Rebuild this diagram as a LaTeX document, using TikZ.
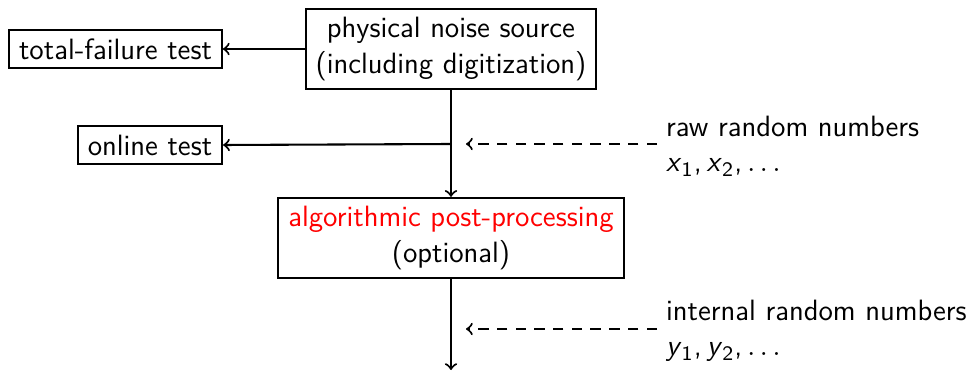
\documentclass[tikz,border=0pt]{standalone}
\usepackage{tikz}
\usetikzlibrary{calc}

\begin{document}
\begin{tikzpicture}[x=0.01352cm, y=-0.01352cm, >=to,
		font=\sffamily\fontsize{11.3}{13.6}\selectfont,
		box/.style={draw, thick, align=center, inner xsep=3.8pt, inner ysep=3.3pt},
		flow/.style={->, thick},
		feed/.style={->, thick, dash pattern=on 4pt off 3.2pt}]
			%%%%% START %%%%%
			
			\useasboundingbox (0, 0) rectangle (975, 373);
			
			\node[box] (source) at (451, 49) {physical noise source\\(including digitization)};
			\node[box] (failtest) at (115.5, 49) {total-failure test};
			\node[box] (onltest) at (150, 145) {online test};
			\node[box] (post) at (451, 238) {\textcolor{red}{algorithmic post-processing}\\(optional)};
			
			\node[anchor=west, align=left] (raw) at (657, 146) {raw random numbers\\\textit{x}\textsubscript{1},\,\textit{x}\textsubscript{2},\,$\ldots$};
			\node[anchor=west, align=left] (internal) at (657, 331) {internal random numbers\\\textit{y}\textsubscript{1},\,\textit{y}\textsubscript{2},\,$\ldots$};
			
			\coordinate (tap) at (451, 144);
			\coordinate (rawtip) at (466, 144);
			\coordinate (inttip) at (466, 329);
			\coordinate (out) at (451, 370);
			
			\draw[flow] (source.west) -- (failtest.east);
			\draw[flow] (source.south) -- (post.north);
			\draw[flow] (tap) -- (onltest.east);
			\draw[flow] (post.south) -- (out);
			
			\draw[feed] (raw.west |- rawtip) -- (rawtip);
			\draw[feed] (internal.west |- inttip) -- (inttip);
			
			%%%%% END %%%%%
\end{tikzpicture}
\end{document}
